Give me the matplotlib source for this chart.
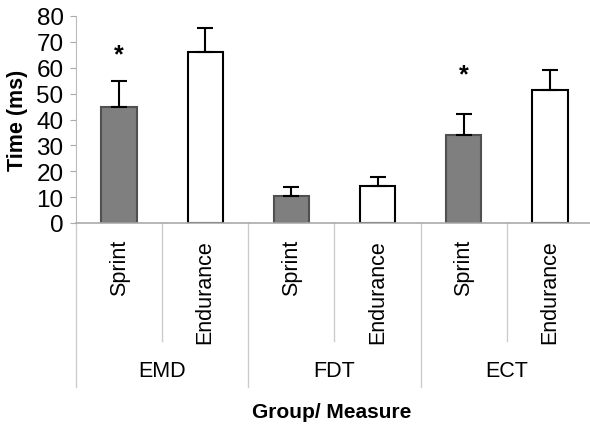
import numpy as np
import matplotlib.pyplot as plt
import matplotlib.transforms as mtransforms

plt.rcParams['font.family'] = ['Liberation Sans', 'DejaVu Sans']

groups = ['EMD', 'FDT', 'ECT']
subgroups = ['Sprint', 'Endurance']
means = [45, 66, 10.6, 14.4, 34, 51.5]
errors = [10, 9.5, 3.2, 3.3, 8, 7.6]
colors = ['#7f7f7f', 'white', '#7f7f7f', 'white', '#7f7f7f', 'white']
edges = ['#505050', 'black', '#505050', 'black', '#505050', 'black']
star_pos = [0, 4]
star_y = [65, 57.5]

fig = plt.figure(figsize=(5.9, 4.27), dpi=100)
ax = fig.add_axes([76 / 590, 1 - 224 / 427, 517 / 590, 207 / 427])

x = np.arange(len(means))
ax.bar(x, means, width=0.41, color=colors, edgecolor=edges, linewidth=1.5, zorder=2)
ax.errorbar(x, means, yerr=[np.zeros(len(errors)), errors], fmt='none',
            ecolor='black', elinewidth=1.5, capsize=6, capthick=1.5, zorder=3)
for p, yv in zip(star_pos, star_y):
    ax.text(x[p], yv, '*', ha='center', va='center', fontsize=18, fontweight='bold')

ax.set_xlim(-0.5, 5.5)
ax.set_ylim(0, 80)
ax.set_yticks(range(0, 81, 10))
ax.tick_params(axis='y', labelsize=17.5, length=4, color='#aaaaaa', pad=5)
ax.set_xticks([])
for s in ['top', 'right']:
    ax.spines[s].set_visible(False)
ax.spines['left'].set_color('#bbbbbb')
ax.spines['bottom'].set_color('#aaaaaa')
ax.spines['bottom'].set_linewidth(1.2)

ax.set_ylabel('Time (ms)', fontsize=15.5, fontweight='bold', labelpad=6)

trans = mtransforms.blended_transform_factory(ax.transData, fig.transFigure)
for i in range(len(means)):
    ax.text(x[i], 1 - 240 / 427, subgroups[i % 2], rotation=90, ha='center', va='top',
            fontsize=15.5, transform=trans)
for b in np.arange(-0.5, 6, 1):
    bottom = 1 - 388 / 427 if (b + 0.5) % 2 == 0 else 1 - 342 / 427
    ax.plot([b, b], [1 - 224 / 427, bottom], color='#cccccc', lw=1, transform=trans,
            clip_on=False)
for g, name in enumerate(groups):
    ax.text(2 * g + 0.5, 1 - 372 / 427, name, ha='center', va='center', fontsize=15.5,
            transform=trans)

fig.text(332 / 590, 1 - 413 / 427, 'Group/ Measure', ha='center', va='center',
         fontsize=15, fontweight='bold')

fig.savefig('out.png', dpi=100)
